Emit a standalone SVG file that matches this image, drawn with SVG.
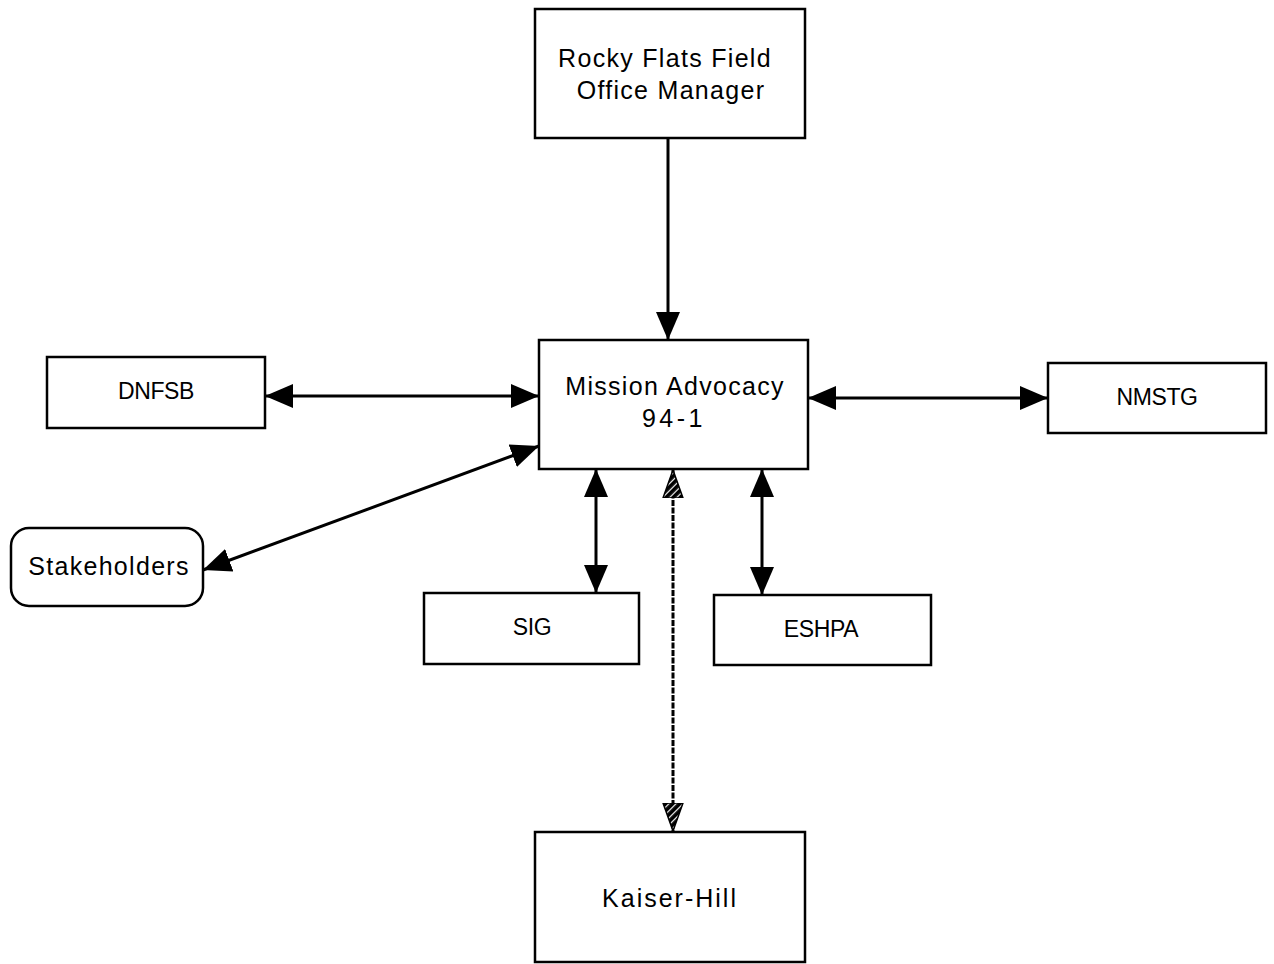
<svg xmlns="http://www.w3.org/2000/svg" width="1274" height="964" viewBox="0 0 1274 964">
<style>
.box{fill:#fff;stroke:#000;stroke-width:2.5}
.t{font-family:"Liberation Sans",Arial,sans-serif;font-size:25px;fill:#000;text-anchor:middle;letter-spacing:1.3px}
.tc{font-family:"Liberation Sans",Arial,sans-serif;font-size:23px;fill:#000;text-anchor:middle;letter-spacing:-0.4px}
.c{fill:none;stroke:#000;stroke-width:3}
.d{fill:none;stroke:#000;stroke-width:3;stroke-dasharray:6 1.5}
</style>
<defs>
<marker id="ah" markerUnits="userSpaceOnUse" markerWidth="30" markerHeight="26" refX="28" refY="12" orient="auto-start-reverse" viewBox="0 0 30 24">
<path d="M0,0 L28,12 L0,24 Z" fill="#000"/>
</marker>
<pattern id="hatch" patternUnits="userSpaceOnUse" width="5" height="5" patternTransform="rotate(-45)">
<rect width="5" height="5" fill="#000"/>
<rect x="0" y="0" width="1.2" height="5" fill="#fff"/>
</pattern>
<marker id="hh" markerUnits="userSpaceOnUse" markerWidth="30" markerHeight="26" refX="28" refY="10" orient="auto-start-reverse" viewBox="0 0 30 20">
<path d="M0,0 L28,10 L0,20 Z" fill="url(#hatch)" stroke="#000" stroke-width="1.5"/>
</marker>
</defs>
<g id="connectors">
<line class="c" x1="668" y1="138" x2="668" y2="340" marker-end="url(#ah)"/>
<line class="c" x1="265" y1="396" x2="539" y2="396" marker-start="url(#ah)" marker-end="url(#ah)"/>
<line class="c" x1="808" y1="398" x2="1048" y2="398" marker-start="url(#ah)" marker-end="url(#ah)"/>
<line class="c" x1="203" y1="570" x2="539" y2="446" marker-start="url(#ah)" marker-end="url(#ah)"/>
<line class="c" x1="596" y1="469" x2="596" y2="593" marker-start="url(#ah)" marker-end="url(#ah)"/>
<line class="c" x1="762" y1="469" x2="762" y2="595" marker-start="url(#ah)" marker-end="url(#ah)"/>
<line class="d" x1="673" y1="470" x2="673" y2="831" marker-start="url(#hh)" marker-end="url(#hh)"/>
</g>
<g id="rocky">
<rect class="box" x="535" y="9" width="270" height="129"/>
<text class="t" x="665" y="67">Rocky Flats Field</text>
<text class="t" x="671" y="99">Office Manager</text>
</g>
<g id="mission">
<rect class="box" x="539" y="340" width="269" height="129"/>
<text class="t" x="675" y="395">Mission Advocacy</text>
<text class="t" x="674" y="427" style="letter-spacing:3.5px">94-1</text>
</g>
<g id="dnfsb">
<rect class="box" x="47" y="357" width="218" height="71"/>
<text class="tc" x="156" y="399">DNFSB</text>
</g>
<g id="nmstg">
<rect class="box" x="1048" y="363" width="218" height="70"/>
<text class="tc" x="1157" y="405">NMSTG</text>
</g>
<g id="stakeholders">
<rect class="box" x="11" y="528" width="192" height="78" rx="18"/>
<text class="t" x="109" y="575">Stakeholders</text>
</g>
<g id="sig">
<rect class="box" x="424" y="593" width="215" height="71"/>
<text class="tc" x="532" y="635">SIG</text>
</g>
<g id="eshpa">
<rect class="box" x="714" y="595" width="217" height="70"/>
<text class="tc" x="821" y="637">ESHPA</text>
</g>
<g id="kaiser">
<rect class="box" x="535" y="832" width="270" height="130"/>
<text class="t" x="670" y="907" style="letter-spacing:2px">Kaiser-Hill</text>
</g>
</svg>
